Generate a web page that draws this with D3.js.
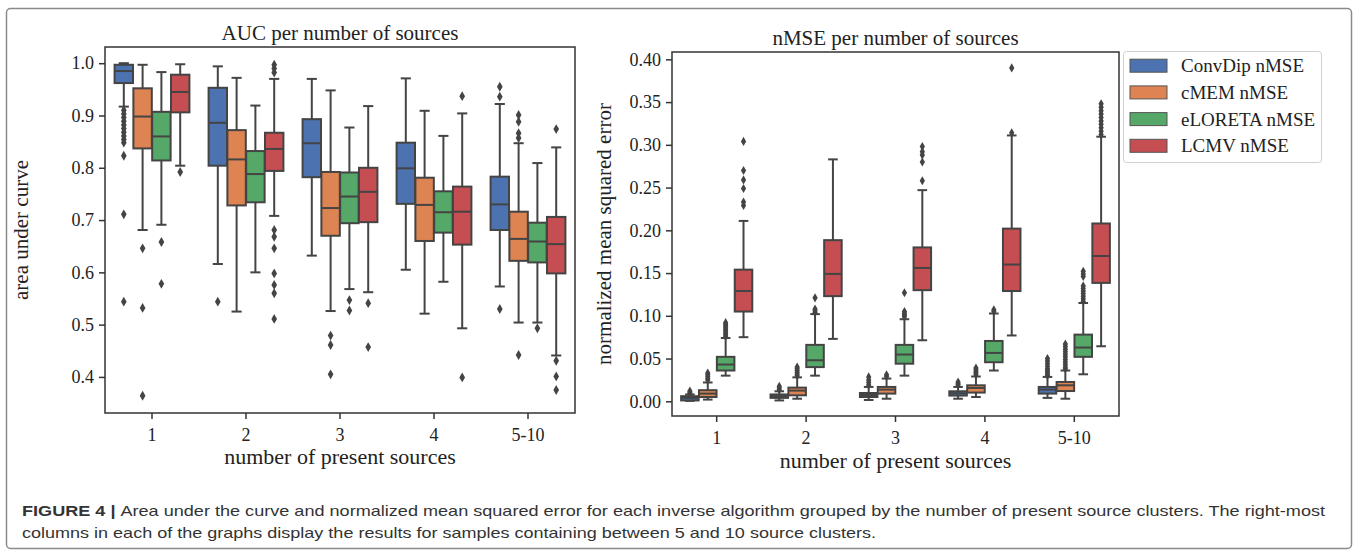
<!DOCTYPE html>
<html>
<head>
<meta charset="utf-8">
<script src="https://cdn.jsdelivr.net/npm/d3@7"></script>
<style>
  body { margin: 0; background: #fff; }
  svg text { font-family: "Liberation Serif", "DejaVu Serif", serif; fill: #222; }
  svg text.caption { font-family: "Liberation Sans", Arial, sans-serif; fill: #333; }
</style>
</head>
<body>
<svg id="fig" width="1357" height="558"></svg>
<script>
const groups = ['1', '2', '3', '4', '5-10'];
const methods = ['ConvDip', 'cMEM', 'eLORETA', 'LCMV'];
const colors = ['#4c72b0', '#dd8452', '#55a868', '#c44e52'];

// box stats per group: [whisker low, q1, median, q3, whisker high]
const aucConvDip = [[0.917, 0.962, 0.985, 0.997, 1.0], [0.616, 0.804, 0.886, 0.953, 0.994], [0.632, 0.782, 0.847, 0.893, 0.970], [0.605, 0.731, 0.799, 0.848, 0.971], [0.573, 0.681, 0.730, 0.783, 0.922]];
const aucCMEM = [[0.681, 0.837, 0.898, 0.952, 0.997], [0.525, 0.728, 0.816, 0.872, 0.972], [0.526, 0.670, 0.723, 0.792, 0.948], [0.521, 0.660, 0.729, 0.781, 0.909], [0.504, 0.622, 0.664, 0.716, 0.847]];
const aucELORETA = [[0.691, 0.814, 0.860, 0.907, 0.983], [0.600, 0.734, 0.788, 0.832, 0.919], [0.568, 0.694, 0.745, 0.791, 0.877], [0.582, 0.676, 0.715, 0.755, 0.861], [0.504, 0.619, 0.659, 0.695, 0.809]];
const aucLCMV = [[0.804, 0.906, 0.945, 0.978, 0.998], [0.708, 0.794, 0.836, 0.867, 0.970], [0.562, 0.696, 0.754, 0.800, 0.918], [0.493, 0.653, 0.716, 0.764, 0.904], [0.441, 0.598, 0.654, 0.706, 0.839]];

const aucConvDipOut = [[0.910, 0.903, 0.896, 0.889, 0.882, 0.875, 0.868, 0.861, 0.854, 0.848, 0.823, 0.711, 0.544], [0.544], [], [], [0.955, 0.936, 0.530]];
const aucCMEMOut = [[0.646, 0.532, 0.364], [], [0.479, 0.461, 0.405], [], [0.901, 0.888, 0.866, 0.857, 0.442]];
const aucELORETAOut = [[0.658, 0.578], [], [0.547, 0.527], [], [0.493]];
const aucLCMVOut = [[0.792], [0.997, 0.990, 0.982, 0.681, 0.668, 0.646, 0.598, 0.576, 0.560, 0.511], [0.541, 0.457], [0.937, 0.399], [0.874, 0.431, 0.401, 0.375]];

const mseConvDip = [[0.0005, 0.001, 0.004, 0.006, 0.008], [0.001, 0.004, 0.006, 0.008, 0.0117], [0.0015, 0.005, 0.0074, 0.0097, 0.0168], [0.003, 0.0067, 0.0094, 0.0117, 0.0168], [0.004, 0.009, 0.0137, 0.0168, 0.0285]];
const mseCMEM = [[0.002, 0.005, 0.009, 0.013, 0.022], [0.003, 0.007, 0.0125, 0.016, 0.028], [0.003, 0.009, 0.0137, 0.0168, 0.0266], [0.005, 0.0102, 0.0156, 0.0187, 0.029], [0.003, 0.012, 0.0187, 0.0226, 0.036]];
const mseELORETA = [[0.030, 0.036, 0.043, 0.052, 0.074], [0.030, 0.040, 0.048, 0.066, 0.102], [0.030, 0.044, 0.0547, 0.066, 0.096], [0.036, 0.0457, 0.0566, 0.0706, 0.1027], [0.0316, 0.052, 0.0629, 0.078, 0.115]];
const mseLCMV = [[0.075, 0.105, 0.129, 0.154, 0.211], [0.073, 0.123, 0.149, 0.1885, 0.283], [0.0714, 0.130, 0.156, 0.180, 0.247], [0.077, 0.129, 0.160, 0.202, 0.311], [0.0644, 0.1385, 0.170, 0.208, 0.3095]];

const mseConvDipOut = [[0.009, 0.0105, 0.012], [0.0135, 0.0155, 0.0176], [0.019, 0.022, 0.025, 0.0285], [0.019, 0.0205, 0.0226], [0.030, 0.032, 0.034, 0.036, 0.038, 0.041, 0.044, 0.047, 0.050]];
const mseCMEMOut = [[0.025, 0.027, 0.029, 0.031, 0.033], [0.030, 0.032, 0.034, 0.036, 0.038, 0.040], [0.029, 0.031], [0.031, 0.033, 0.035, 0.037, 0.039], [0.038, 0.040, 0.043, 0.046, 0.049, 0.052, 0.055, 0.058, 0.061, 0.064, 0.067]];
const mseELORETAOut = [[0.076, 0.078, 0.080, 0.082, 0.084, 0.086, 0.088, 0.090, 0.092], [0.104, 0.106, 0.108, 0.121], [0.099, 0.101, 0.103, 0.105, 0.127], [0.105, 0.107], [0.117, 0.120, 0.123, 0.126, 0.129, 0.132, 0.135, 0.146, 0.149, 0.152]];
const mseLCMVOut = [[0.229, 0.233, 0.249, 0.259, 0.270, 0.304], [], [0.258, 0.280, 0.288, 0.292, 0.298], [0.314, 0.390], [0.312, 0.316, 0.320, 0.324, 0.328, 0.332, 0.336, 0.340, 0.344, 0.348]];

const aucTicks = [0.4, 0.5, 0.6, 0.7, 0.8, 0.9, 1.0];
const mseTicks = [0.00, 0.05, 0.10, 0.15, 0.20, 0.25, 0.30, 0.35, 0.40];

const EDGE = '#444';
const svg = d3.select('#fig');

// outer figure frame
svg.append('rect')
  .attr('x', 6.5).attr('y', 8.5).attr('width', 1345).attr('height', 540)
  .attr('rx', 4).attr('fill', 'none').attr('stroke', '#8a8a8a').attr('stroke-width', 1.5);

const drawPanel = (cfg) => {
  const { left, right, top, bottom } = cfg.box;
  const x = d3.scaleBand().domain(groups).range([left, right]);
  const hue = d3.scaleBand().domain(methods).range([-x.bandwidth() * 0.4, x.bandwidth() * 0.4]);
  const y = d3.scaleLinear().domain(cfg.yDomain).range([bottom, top]);
  const boxW = hue.bandwidth() * 0.98;
  const capW = boxW * 0.55;
  const g = svg.append('g');

  methods.forEach((m, mi) => {
    const stats = cfg.stats[mi];
    const outs = cfg.outliers[mi];
    groups.forEach((grp, gi) => {
      const cx = x(grp) + x.bandwidth() / 2 + hue(m) + hue.bandwidth() / 2;
      const [lo, q1, med, q3, hi] = stats[gi];
      const bg = g.append('g');
      bg.append('line').attr('x1', cx).attr('x2', cx).attr('y1', y(q1)).attr('y2', y(lo))
        .attr('stroke', EDGE).attr('stroke-width', 2);
      bg.append('line').attr('x1', cx).attr('x2', cx).attr('y1', y(q3)).attr('y2', y(hi))
        .attr('stroke', EDGE).attr('stroke-width', 2);
      [lo, hi].forEach((v) => {
        bg.append('line').attr('x1', cx - capW / 2).attr('x2', cx + capW / 2)
          .attr('y1', y(v)).attr('y2', y(v)).attr('stroke', EDGE).attr('stroke-width', 2);
      });
      bg.append('rect').attr('x', cx - boxW / 2).attr('width', boxW)
        .attr('y', y(q3)).attr('height', Math.max(1, y(q1) - y(q3)))
        .attr('fill', colors[mi]).attr('stroke', EDGE).attr('stroke-width', 2);
      bg.append('line').attr('x1', cx - boxW / 2).attr('x2', cx + boxW / 2)
        .attr('y1', y(med)).attr('y2', y(med)).attr('stroke', EDGE).attr('stroke-width', 2);
      bg.selectAll('path.out').data(outs[gi]).join('path')
        .attr('class', 'out')
        .attr('d', d3.symbol(d3.symbolDiamond, cfg.outSize))
        .attr('transform', (d) => `translate(${cx},${y(d)})`)
        .attr('fill', EDGE);
    });
  });

  // frame
  g.append('rect').attr('x', left).attr('y', top).attr('width', right - left).attr('height', bottom - top)
    .attr('fill', 'none').attr('stroke', '#333').attr('stroke-width', 1.5);

  const yAxis = g.append('g').attr('transform', `translate(${left},0)`)
    .call(d3.axisLeft(y).tickValues(cfg.ticks).tickFormat(d3.format(cfg.fmt)).tickSize(6).tickPadding(5));
  yAxis.select('.domain').remove();
  yAxis.selectAll('line').attr('stroke', '#333').attr('stroke-width', 1.5);
  yAxis.selectAll('text').style('font-size', '18px').style('font-family', '"Liberation Serif", serif').attr('fill', '#222');

  const xAxis = g.append('g').attr('transform', `translate(0,${bottom})`)
    .call(d3.axisBottom(x).tickSize(6).tickPadding(9));
  xAxis.select('.domain').remove();
  xAxis.selectAll('line').attr('stroke', '#333').attr('stroke-width', 1.5);
  xAxis.selectAll('text').style('font-size', '18px').style('font-family', '"Liberation Serif", serif').attr('fill', '#222');

  g.append('text').attr('x', (left + right) / 2).attr('y', cfg.titleY)
    .attr('text-anchor', 'middle').style('font-size', '21px').text(cfg.title);
  g.append('text').attr('x', (left + right) / 2).attr('y', cfg.xLabelY)
    .attr('text-anchor', 'middle').style('font-size', '22px').text('number of present sources');
  g.append('text').attr('transform', `translate(${cfg.yLabelX},${(top + bottom) / 2}) rotate(-90)`)
    .attr('text-anchor', 'middle').style('font-size', '21px').text(cfg.yLabel);
};

drawPanel({
  box: { left: 105, right: 575, top: 47, bottom: 413 },
  yDomain: [0.331, 1.031],
  ticks: aucTicks, fmt: '.1f',
  stats: [aucConvDip, aucCMEM, aucELORETA, aucLCMV],
  outliers: [aucConvDipOut, aucCMEMOut, aucELORETAOut, aucLCMVOut],
  outSize: 28,
  title: 'AUC per number of sources', titleY: 40,
  xLabelY: 464, yLabel: 'area under curve', yLabelX: 28,
});

drawPanel({
  box: { left: 672, right: 1119, top: 52, bottom: 416 },
  yDomain: [-0.0172, 0.4086],
  ticks: mseTicks, fmt: '.2f',
  stats: [mseConvDip, mseCMEM, mseELORETA, mseLCMV],
  outliers: [mseConvDipOut, mseCMEMOut, mseELORETAOut, mseLCMVOut],
  outSize: 24,
  title: 'nMSE per number of sources', titleY: 45,
  xLabelY: 468, yLabel: 'normalized mean squared error', yLabelX: 611,
});

// legend
const legend = svg.append('g').attr('transform', 'translate(1123,51)');
legend.append('rect').attr('x', 0.5).attr('y', 0.5).attr('width', 198).attr('height', 111)
  .attr('rx', 3).attr('fill', '#fff').attr('stroke', '#d0d0d0').attr('stroke-width', 1);
methods.forEach((m, i) => {
  const row = legend.append('g').attr('transform', `translate(0,${14.7 + i * 26.7})`);
  row.append('rect').attr('x', 7).attr('y', -6.5).attr('width', 37).attr('height', 13)
    .attr('fill', colors[i]).attr('stroke', '#555').attr('stroke-width', 1);
  row.append('text').attr('x', 58).attr('y', 6.5).style('font-size', '19px').text(`${m} nMSE`);
});

// caption
const cap1 = svg.append('text').attr('class', 'caption').attr('x', 22).attr('y', 516)
  .style('font-size', '15px').attr('textLength', 1303).attr('lengthAdjust', 'spacingAndGlyphs');
cap1.append('tspan').style('font-weight', 'bold').text('FIGURE 4 | ');
cap1.append('tspan').text('Area under the curve and normalized mean squared error for each inverse algorithm grouped by the number of present source clusters. The right-most');
svg.append('text').attr('class', 'caption').attr('x', 22).attr('y', 538)
  .style('font-size', '15px').attr('textLength', 854).attr('lengthAdjust', 'spacingAndGlyphs')
  .text('columns in each of the graphs display the results for samples containing between 5 and 10 source clusters.');
</script>
</body>
</html>
